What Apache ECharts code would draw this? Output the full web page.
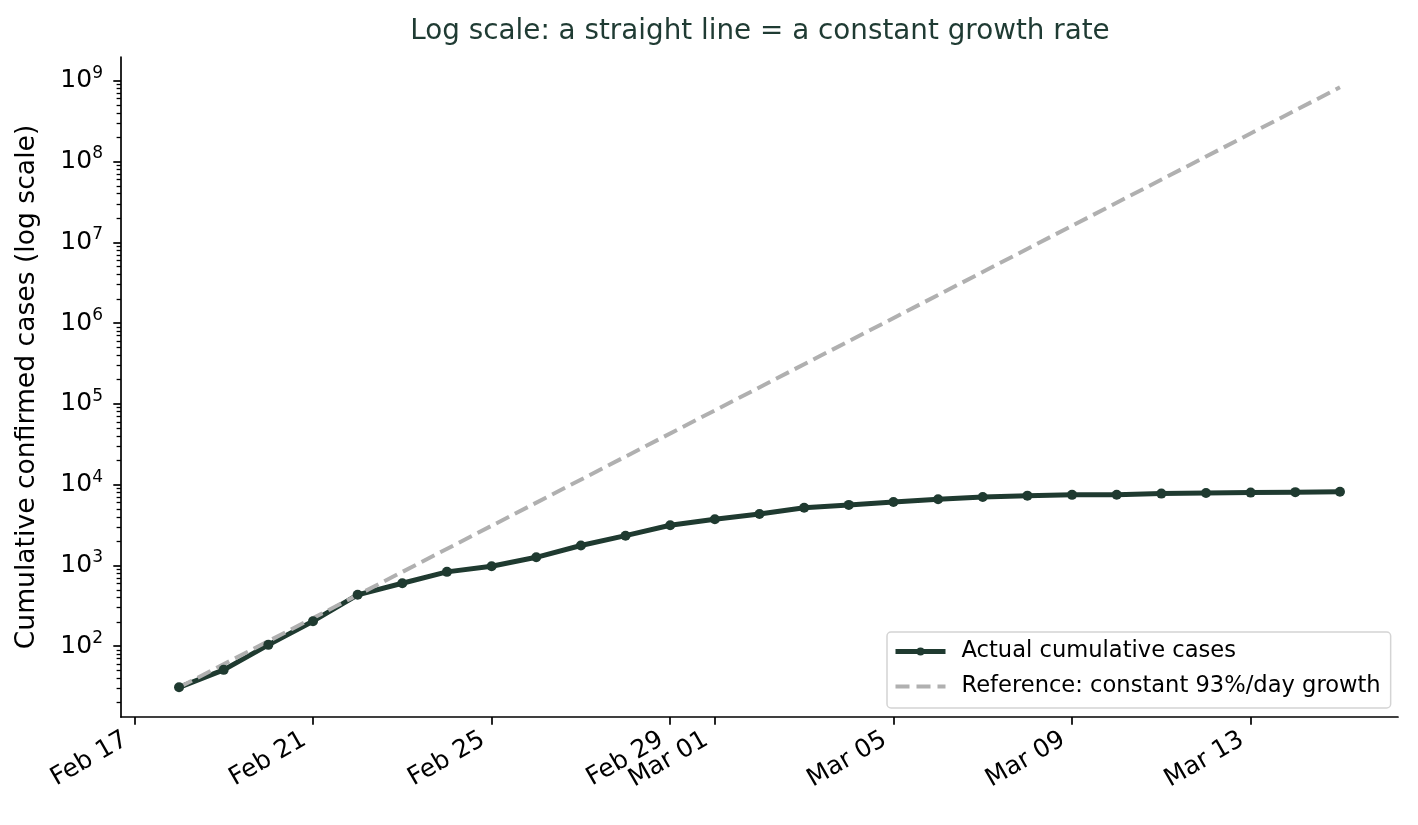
<!DOCTYPE html>
<html lang="en">
<head>
<meta charset="UTF-8">
<title>Log scale growth</title>
<script src="https://cdn.jsdelivr.net/npm/echarts@6.0.0/dist/echarts.min.js"></script>
<style>
  html, body { margin: 0; padding: 0; background: #fff; }
  #chart { width: 1418px; height: 825px; }
</style>
</head>
<body>
<div id="chart"></div>
<script>
// data
const dates = [
  '2020-02-18', '2020-02-19', '2020-02-20', '2020-02-21', '2020-02-22', '2020-02-23',
  '2020-02-24', '2020-02-25', '2020-02-26', '2020-02-27', '2020-02-28', '2020-02-29',
  '2020-03-01', '2020-03-02', '2020-03-03', '2020-03-04', '2020-03-05', '2020-03-06',
  '2020-03-07', '2020-03-08', '2020-03-09', '2020-03-10', '2020-03-11', '2020-03-12',
  '2020-03-13', '2020-03-14', '2020-03-15'
];
const actualCases = [
  31, 51, 104, 204, 433, 602, 833, 977, 1261, 1766, 2337, 3150,
  3736, 4335, 5186, 5621, 6088, 6593, 7041, 7314, 7478, 7513, 7755, 7869,
  7979, 8086, 8162
];
// straight line on the log axis: start and end of the reference
const refDates = ['2020-02-18', '2020-03-15'];
const refCases = [31, 8.3e8];

const xTickDates = ['2020-02-17', '2020-02-21', '2020-02-25', '2020-02-29',
                    '2020-03-01', '2020-03-05', '2020-03-09', '2020-03-13'];
const yTickValues = [1e2, 1e3, 1e4, 1e5, 1e6, 1e7, 1e8, 1e9];

const yMin = 13.3, yMax = 1.97e9;
const months = ['Jan', 'Feb', 'Mar', 'Apr', 'May', 'Jun', 'Jul', 'Aug', 'Sep', 'Oct', 'Nov', 'Dec'];
const DAY = 86400000;

// 'YYYY-MM-DD' -> local timestamp
function ts(s) {
  let p = s.split('-');
  return new Date(+p[0], +p[1] - 1, +p[2]).getTime();
}

// minor ticks 2..9 per decade inside the axis range
let minorTicks = [];
for (let e = 1; e <= 9; e++) {
  for (let m = 2; m <= 9; m++) {
    let v = m * Math.pow(10, e);
    if (v > yMin && v < yMax) minorTicks.push(v);
  }
}

const font = 'DejaVu Sans';
const dark = '#1f3a30';
const grey = '#b0b0b0';

const chart = echarts.init(document.getElementById('chart'));

chart.setOption({
  animation: false,
  backgroundColor: '#fff',
  textStyle: { fontFamily: font },
  title: {
    text: 'Log scale: a straight line = a constant growth rate',
    left: 760,
    top: 18,
    padding: 0,
    textAlign: 'center',
    textStyle: { fontFamily: font, fontSize: 27.8, fontWeight: 'normal', color: '#1f3b33' }
  },
  grid: { left: 121, right: 20, top: 57, bottom: 108, containLabel: false },
  legend: {
    orient: 'vertical',
    left: 887,
    top: 632,
    padding: [8, 10, 10, 6],
    itemWidth: 50,
    itemHeight: 10,
    itemGap: 12,
    backgroundColor: 'rgba(255,255,255,0.8)',
    borderColor: '#d4d4d4',
    borderWidth: 1.5,
    borderRadius: 4,
    textStyle: { fontFamily: font, fontSize: 22.6, color: '#000', padding: [0, 0, 0, 11] },
    data: [
      { name: 'Actual cumulative cases', lineStyle: { width: 5, color: dark }, itemStyle: { color: dark } },
      { name: 'Reference: constant 93%/day growth', lineStyle: { width: 4, color: grey, type: [14, 7] }, itemStyle: { opacity: 0 } }
    ]
  },
  xAxis: {
    type: 'value',
    min: ts(dates[0]) - 1.3 * DAY,
    max: ts(dates[dates.length - 1]) + 1.3 * DAY,
    axisLine: { show: true, lineStyle: { color: '#000', width: 1.7 } },
    axisTick: { show: true, length: 7.7, lineStyle: { color: '#000', width: 1.7 }, customValues: xTickDates.map(ts) },
    splitLine: { show: false },
    axisLabel: {
      customValues: xTickDates.map(ts),
      rotate: 30,
      margin: 16,
      padding: [0, 10, 0, 0],
      fontFamily: font,
      fontSize: 25,
      color: '#000',
      formatter: function (value) {
        let d = new Date(value);
        let day = d.getDate();
        return months[d.getMonth()] + ' ' + (day < 10 ? '0' + day : day);
      }
    }
  },
  yAxis: [{
    type: 'log',
    logBase: 10,
    min: yMin,
    max: yMax,
    name: 'Cumulative confirmed cases (log scale)',
    nameLocation: 'middle',
    nameGap: 80,
    nameTextStyle: { fontFamily: font, fontSize: 26.6, color: '#000' },
    axisLine: { show: true, lineStyle: { color: '#000', width: 1.7 } },
    axisTick: { show: true, length: 7.7, lineStyle: { color: '#000', width: 1.7 }, customValues: yTickValues },
    splitLine: { show: false },
    axisLabel: {
      customValues: yTickValues,
      margin: 18,
      color: '#000',
      formatter: function (value) {
        let e = Math.round(Math.log10(value));
        return '{b|10}{s|' + e + '}';
      },
      rich: {
        b: { fontFamily: font, fontSize: 25, lineHeight: 32, color: '#000' },
        s: { fontFamily: font, fontSize: 17, lineHeight: 21.6, verticalAlign: 'top', color: '#000' }
      }
    }
  }, {
    type: 'log',
    logBase: 10,
    min: yMin,
    max: yMax,
    position: 'left',
    axisLine: { show: false },
    axisTick: { show: true, length: 4.4, lineStyle: { color: '#000', width: 1.3 }, customValues: minorTicks },
    axisLabel: { show: false },
    splitLine: { show: false }
  }],
  series: [{
    name: 'Actual cumulative cases',
    type: 'line',
    yAxisIndex: 0,
    data: dates.map((d, i) => [ts(d), actualCases[i]]),
    symbol: 'circle',
    symbolSize: 10,
    showSymbol: true,
    lineStyle: { color: dark, width: 5 },
    itemStyle: { color: dark }
  }, {
    name: 'Reference: constant 93%/day growth',
    type: 'line',
    yAxisIndex: 0,
    data: refDates.map((d, i) => [ts(d), refCases[i]]),
    symbol: 'none',
    lineStyle: { color: grey, width: 4, type: [14.5, 6.5] },
    itemStyle: { color: grey }
  }]
});
</script>
</body>
</html>
